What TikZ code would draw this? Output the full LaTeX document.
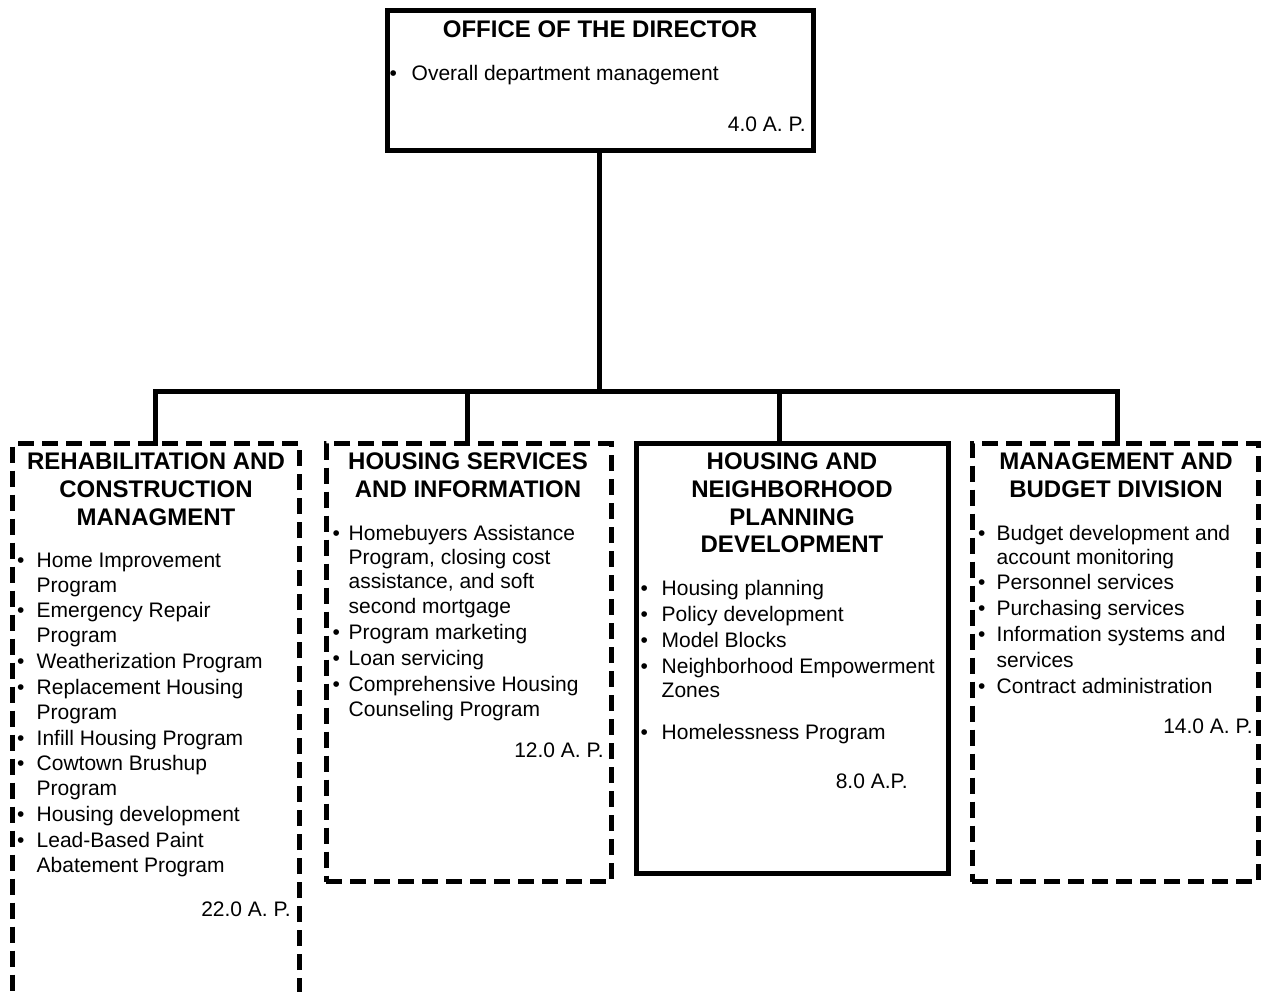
\documentclass[tikz,border=0pt]{standalone}
\usepackage{fontspec}
\setmainfont{Liberation Sans}
\begin{document}
\begin{tikzpicture}[x=1pt,y=-1pt,
  solidbox/.style={draw, line width=5pt, inner sep=0pt, outer sep=0pt, anchor=north west},
  dashbox/.style={solidbox, dash pattern=on 16pt off 8pt},
  link/.style={line width=5pt, line cap=rect},
  head/.style={font=\fontsize{24}{28}\selectfont\bfseries, anchor=base, inner sep=0pt},
  txt/.style={font=\fontsize{21}{25}\selectfont, anchor=base west, inner sep=0pt},
  fte/.style={font=\fontsize{21}{25}\selectfont, anchor=base east, inner sep=0pt}]
\useasboundingbox (0,0) rectangle (1265,991);
\clip (0,0) rectangle (1265,991);

% frames
\node[solidbox, minimum width=425.5, minimum height=140.5] (dir) at (387.5,10) {};
\node[dashbox, minimum width=286.5, minimum height=600] (rc) at (12.5,443.5) {};
\node[dashbox, minimum width=285, minimum height=438] (hs) at (326,443.5) {};
\node[solidbox, minimum width=312, minimum height=430] (hn) at (636,443.5) {};
\node[dashbox, minimum width=286, minimum height=438] (mb) at (972,443.5) {};

% connectors
\coordinate (bus) at (599,391);
\coordinate (b1) at (155,391);
\coordinate (b2) at (467,391);
\coordinate (b3) at (779,391);
\coordinate (b4) at (1117,391);
\draw[link] (dir.south -| bus) -- (bus);
\draw[link] (b1) -- (b4);
\draw[link] (b1) -- (b1 |- rc.north);
\draw[link] (b2) -- (b2 |- hs.north);
\draw[link] (b3) -- (b3 |- hn.north);
\draw[link] (b4) -- (b4 |- mb.north);

% office of the director
\node[head] (dir-h) at (600,37.5) {OFFICE OF THE DIRECTOR};
\node[txt] (dir-b) at (389.5,80) {•};
\node[txt] (dir-t) at (411.5,80) {Overall department management};
\node[fte] (dir-f) at (806,131) {4.0 A. P.};

% rehabilitation and construction
\foreach \y/\t [count=\i] in {469.5/REHABILITATION AND, 497.5/CONSTRUCTION, 525.5/MANAGMENT}
  \node[head] (rc-h\i) at (156,\y) {\t};
\foreach \y/\b/\t [count=\i] in {567/1/Home Improvement, 592/0/Program,
    617/1/Emergency Repair, 642/0/Program, 668/1/Weatherization Program,
    694/1/Replacement Housing, 719/0/Program, 745/1/Infill Housing Program,
    770/1/Cowtown Brushup, 795/0/Program, 821/1/Housing development,
    847/1/Lead-Based Paint, 872/0/Abatement Program}{
  \node[txt] (rc-t\i) at (36.5,\y) {\t};
  \ifnum\b=1 \node[txt] (rc-b\i) at (17,\y) {•};\fi
}
\node[fte] (rc-f) at (291,916) {22.0 A. P.};

% housing services and information
\foreach \y/\t [count=\i] in {469.5/HOUSING SERVICES, 497.5/AND INFORMATION}
  \node[head] (hs-h\i) at (468,\y) {\t};
\foreach \y/\b/\t [count=\i] in {540/1/Homebuyers Assistance, 564/0/{Program, closing cost},
    588/0/{assistance, and soft}, 613/0/second mortgage, 639/1/Program marketing,
    665/1/Loan servicing, 691/1/Comprehensive Housing, 716/0/Counseling Program}{
  \node[txt] (hs-t\i) at (348.5,\y) {\t};
  \ifnum\b=1 \node[txt] (hs-b\i) at (332.5,\y) {•};\fi
}
\node[fte] (hs-f) at (604,757) {12.0 A. P.};

% housing and neighborhood planning development
\foreach \y/\t [count=\i] in {469.5/HOUSING AND, 497.5/NEIGHBORHOOD, 525.5/PLANNING, 552.5/DEVELOPMENT}
  \node[head] (hn-h\i) at (792,\y) {\t};
\foreach \y/\b/\t [count=\i] in {595/1/Housing planning, 621/1/Policy development,
    647/1/Model Blocks, 673/1/Neighborhood Empowerment, 697/0/Zones,
    739/1/Homelessness Program}{
  \node[txt] (hn-t\i) at (661.5,\y) {\t};
  \ifnum\b=1 \node[txt] (hn-b\i) at (640.5,\y) {•};\fi
}
\node[fte] (hn-f) at (908,788) {8.0 A.P.};

% management and budget division
\foreach \y/\t [count=\i] in {469.5/MANAGEMENT AND, 497.5/BUDGET DIVISION}
  \node[head] (mb-h\i) at (1116,\y) {\t};
\foreach \y/\b/\t [count=\i] in {540/1/Budget development and, 564/0/account monitoring,
    589/1/Personnel services, 615/1/Purchasing services,
    641/1/Information systems and, 667/0/services, 693/1/Contract administration}{
  \node[txt] (mb-t\i) at (996.5,\y) {\t};
  \ifnum\b=1 \node[txt] (mb-b\i) at (978,\y) {•};\fi
}
\node[fte] (mb-f) at (1253,733) {14.0 A. P.};
\end{tikzpicture}
\end{document}
